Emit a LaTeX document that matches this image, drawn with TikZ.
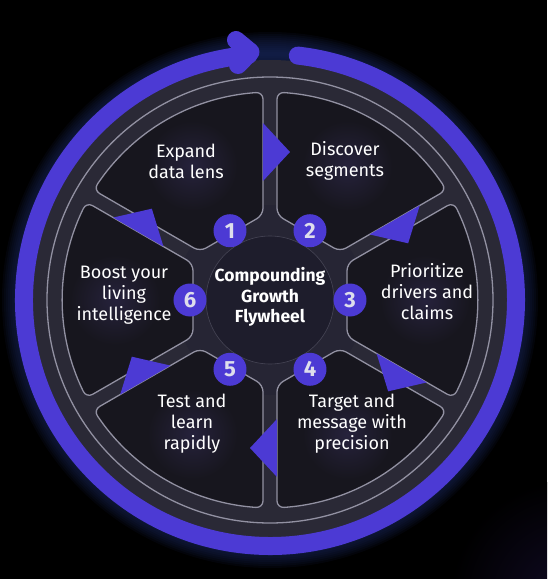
\documentclass[tikz,border=0pt]{standalone}
\usepackage{fontspec}
\setmainfont{Fira Sans}
\usepackage{xcolor}
\usetikzlibrary{positioning,calc}
\definecolor{ringpurple}{RGB}{76,58,212}
\definecolor{secfill}{RGB}{23,22,30}
\definecolor{secglow}{RGB}{38,34,60}
\definecolor{bandgray}{RGB}{42,41,54}
\definecolor{edgegray}{RGB}{146,145,162}
\definecolor{hubring}{RGB}{38,37,52}
\definecolor{hubdark}{RGB}{30,29,44}
\definecolor{glowblue}{RGB}{30,46,104}
\definecolor{cornerglow}{RGB}{16,10,36}
\definecolor{numtext}{RGB}{222,222,236}
\tikzset{
  sector/.style={fill=secfill,draw=edgegray,line width=1.3pt,rounded corners=7pt},
  numc/.style={circle,fill=ringpurple,minimum size=33pt,inner sep=0pt,text=numtext,font=\bfseries\fontsize{22}{22}\selectfont},
  lab/.style={align=center,text=white,font=\fontsize{18}{21}\selectfont},
  hub/.style={align=center,text=white,font=\bfseries\fontsize{17.5}{20.5}\selectfont},
  cwmark/.style={fill=ringpurple},
  ringline/.style={line width=18pt,ringpurple,line cap=round,line join=round},
}
\begin{document}
\begin{tikzpicture}[x=1pt,y=1pt]
  \useasboundingbox (-270,-279) rectangle (277,300);
  \fill[black] (-270,-279) rectangle (277,300);
  \begin{scope}
    \clip (-270,-279) rectangle (277,300);
    \shade[inner color=cornerglow,outer color=black] (300,-300) circle (120);
  \end{scope}
  % glow round the wheel
  \foreach \w in {4,8,...,44}
    \draw[glowblue,opacity=0.1,line width=\w pt] (0,0) circle (246);
  \fill[bandgray] (0,0) circle (240);
  \draw[edgegray,line width=1.3pt] (0,0) circle (223);
  \fill[hubring] (0,0) circle (95);
  % six sectors
  \foreach \a in {0,60,...,300}
    \draw[sector,rotate=\a] (77,-36.4) -- (-28.07:208)
      \foreach \t in {-24,-20,...,24} { -- (\t:208) }
      -- (28.07:208) -- (77,36.4) -- cycle;
  \foreach \a in {0,60,...,300}
    \shade[inner color=secglow,outer color=secfill] (\a:155) circle (45);
  \fill[hubdark] (0,0) circle (64);
  \draw[hubring!70!edgegray,line width=0.6pt] (0,0) circle (64);
  % clockwise markers
  \foreach \s in {90,30,-30,-90,-150,150}
    \fill[cwmark,rotate=\s] (119,7) -- (177,7) -- (148,-20) -- cycle;
  % outer ring with arrow
  \draw[ringline] (83.5:246) arc[start angle=83.5,end angle=-265,radius=246];
  \draw[ringline] (-34,260) -- (-19.5,248) -- (-32,235);
  % numbers
  \foreach \n/\a in {1/120,2/60,3/0,4/-60,5/-120,6/180}
    \node[numc] (n\n) at (\a:80) {\n};
  \node[hub] (core) at (0,3) {Compounding\\Growth\\Flywheel};
  \node[lab] (t1) at (-84,139) {Expand\\data lens};
  \node[lab] (t2) at (75,139) {Discover\\segments};
  \node[lab] (t3) at (157,8) {Prioritize\\drivers and\\claims};
  \node[lab] (t4) at (82,-124) {Target and\\message with\\precision};
  \node[lab] (t5) at (-78,-124) {Test and\\learn\\rapidly};
  \node[lab] (t6) at (-146,5) {Boost your\\living\\intelligence};
\end{tikzpicture}
\end{document}
